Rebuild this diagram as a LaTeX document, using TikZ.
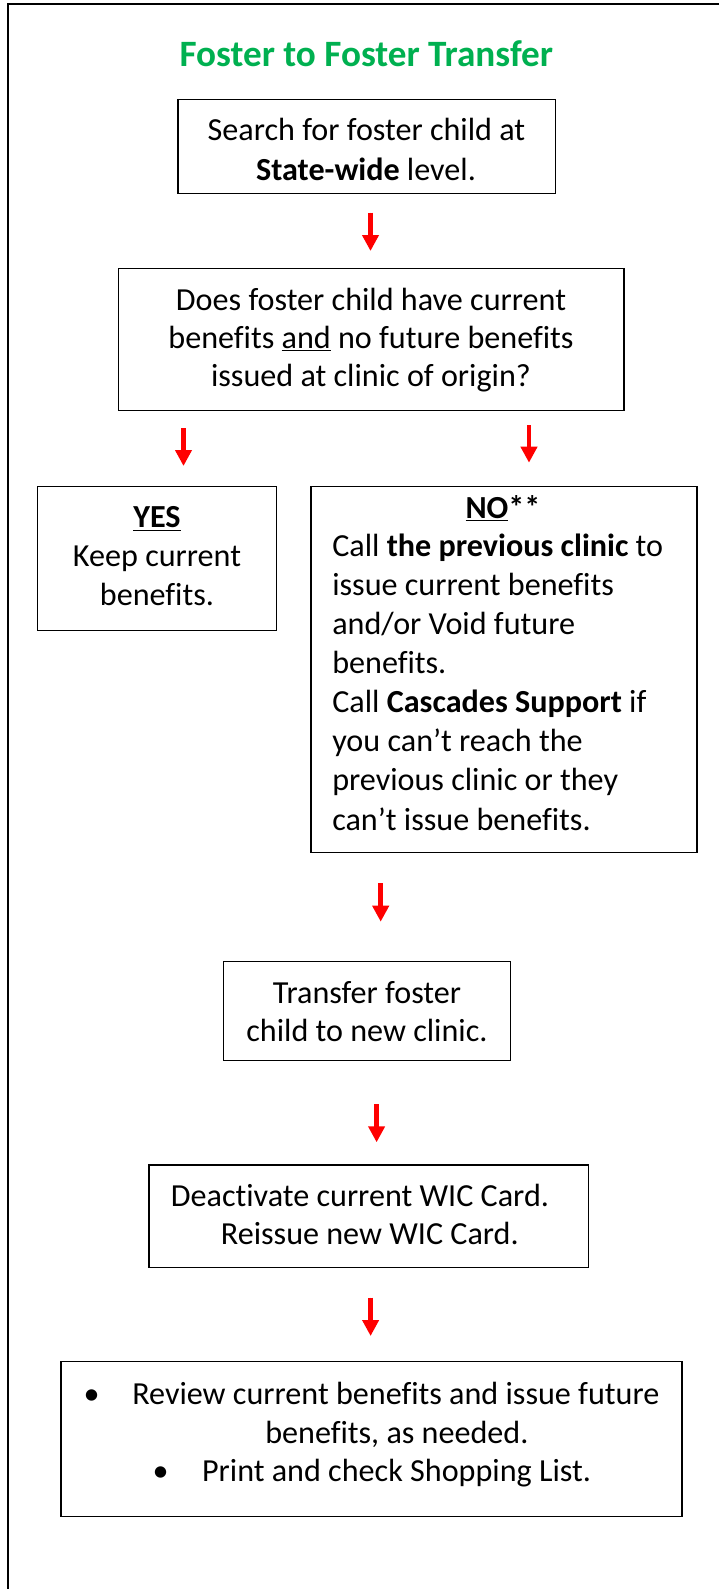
\documentclass[tikz,border=0pt]{standalone}
\usepackage{fontspec}
\setmainfont{Carlito}[Ligatures={NoCommon}]
\usetikzlibrary{arrows.meta}
\definecolor{titlegreen}{RGB}{0,176,80}
\definecolor{arrowred}{RGB}{255,0,0}
\tikzset{
  box/.style={draw=black, line width=1.1pt, inner sep=0pt, fill=none},
  txt/.style={inner sep=0pt, font=\fontsize{24.1}{29}\selectfont},
  ttl/.style={inner sep=0pt, text=titlegreen, font=\fontsize{27.9}{33}\selectfont\bfseries},
  redarrow/.style={draw=arrowred, fill=arrowred, line width=3.6pt, -{Triangle[width=12pt,length=12pt]}},
}
\begin{document}
\begin{tikzpicture}[x=0.75pt,y=-0.75pt]
\useasboundingbox (0,0) rectangle (719,1589);
% outer frame (top and left visible)
\coordinate (ftr) at (719,4.3);
\coordinate (ftl) at (7.7,4.3);
\coordinate (fbl) at (7.7,1589);
\draw[line width=1.5pt, line join=miter] (ftr) -- (ftl) -- (fbl);

% title
\node[ttl, anchor=base] (title) at (366.3,66) {Foster to Foster Transfer};

% boxes
\node[box, minimum width=283.1pt, minimum height=70.8pt] (b1) at (366.75,146.5) {};
\node[box, minimum width=379.2pt, minimum height=106.5pt] (b2) at (371.1,339.7) {};
\node[box, minimum width=179.25pt, minimum height=108pt] (yes) at (157.1,558.7) {};
\node[box, minimum width=289.65pt, minimum height=274.2pt] (no) at (504.1,669.5) {};
\node[box, minimum width=215.4pt, minimum height=74.25pt] (tr) at (367,1011.2) {};
\node[box, minimum width=329.6pt, minimum height=77pt] (de) at (368.75,1216.35) {};
\node[box, minimum width=465.8pt, minimum height=116.25pt] (last) at (371.55,1439.2) {};

% box 1 text
\node[txt, anchor=base] (b1l1) at (366.5,140) {Search for foster child at};
\node[txt, anchor=base] (b1l2) at (366,180) {\textbf{State-wide} level.};

% box 2 text
\node[txt, anchor=base] (b2l1) at (371,310) {Does foster child have current};
\node[txt, anchor=base] (b2l2) at (371,348.3) {benefits \underline{and} no future benefits};
\node[txt, anchor=base] (b2l3) at (371,386.7) {issued at clinic of origin?};

% yes text
\node[txt, anchor=base] (y1) at (157,527.7) {\textbf{\underline{YES}}};
\node[txt, anchor=base] (y2) at (157,566.7) {Keep current};
\node[txt, anchor=base] (y3) at (157,605) {benefits.};

% no text
\node[txt, anchor=base] (n0) at (503,518.3) {\textbf{\underline{NO}**}};
\node[txt, anchor=base west] (n1) at (332,556.7) {Call \textbf{the previous clinic} to};
\node[txt, anchor=base west] (n2) at (332,595.7) {issue current benefits};
\node[txt, anchor=base west] (n3) at (332,634.3) {and/or Void future};
\node[txt, anchor=base west] (n4) at (332,673.3) {benefits.};
\node[txt, anchor=base west] (n5) at (332,712.3) {Call \textbf{Cascades Support} if};
\node[txt, anchor=base west] (n6) at (332,751.7) {you can’t reach the};
\node[txt, anchor=base west] (n7) at (332,790) {previous clinic or they};
\node[txt, anchor=base west] (n8) at (332,830) {can’t issue benefits.};

% transfer text
\node[txt, anchor=base] (t1) at (367,1003.3) {Transfer foster};
\node[txt, anchor=base] (t2) at (367,1041.7) {child to new clinic.};

% deactivate text
\node[txt, anchor=base west] (d1) at (170.6,1206) {Deactivate current WIC Card.};
\node[txt, anchor=base west] (d2) at (220.6,1244.3) {Reissue new WIC Card.};

% last box text
\node[txt, anchor=base] (bul1) at (91.7,1404) {•};
\node[txt, anchor=base west] (l1) at (132,1404) {Review current benefits and issue future};
\node[txt, anchor=base west] (l2) at (265,1443.3) {benefits, as needed.};
\node[txt, anchor=base] (bul2) at (160.5,1481.7) {•};
\node[txt, anchor=base west] (l3) at (201.8,1481.7) {Print and check Shopping List.};

% arrows
\coordinate (a1s) at (370.5,212.5); \coordinate (a1e) at (370.5,251);
\coordinate (a2s) at (183.5,428.3); \coordinate (a2e) at (183.5,466);
\coordinate (a3s) at (529,425);     \coordinate (a3e) at (529,462.7);
\coordinate (a4s) at (380.7,883.3); \coordinate (a4e) at (380.7,921.7);
\coordinate (a5s) at (376.6,1104.3);\coordinate (a5e) at (376.6,1142.3);
\coordinate (a6s) at (370.6,1297.7);\coordinate (a6e) at (370.6,1336);
\draw[redarrow] (a1s) -- (a1e);
\draw[redarrow] (a2s) -- (a2e);
\draw[redarrow] (a3s) -- (a3e);
\draw[redarrow] (a4s) -- (a4e);
\draw[redarrow] (a5s) -- (a5e);
\draw[redarrow] (a6s) -- (a6e);
\end{tikzpicture}
\end{document}
